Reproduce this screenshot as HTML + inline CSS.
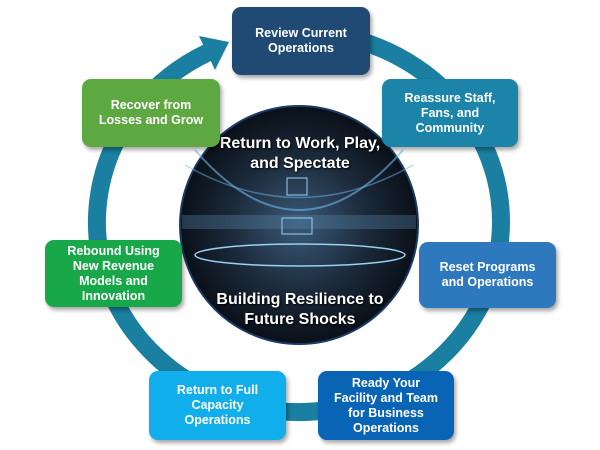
<!DOCTYPE html>
<html><head><style>
body{margin:0;width:600px;height:450px;background:#fff;overflow:hidden;position:relative;font-family:"Liberation Sans",sans-serif}
.b{position:absolute;color:#fff;font-weight:bold;font-size:12.5px;line-height:15px;text-align:center;border-radius:9px;display:flex;align-items:center;justify-content:center;box-shadow:2px 3px 4px rgba(0,0,0,.35)}
.t{position:absolute;color:#fff;font-weight:bold;font-size:16px;line-height:20px;text-align:center;text-shadow:1px 1px 2px #000}
</style></head><body>
<svg width="600" height="450" style="position:absolute;left:0;top:0">
<defs>
<radialGradient id="g" cx="50%" cy="50%" r="50%">
<stop offset="0" stop-color="#3a5a78"/><stop offset=".6" stop-color="#1a2838"/><stop offset="1" stop-color="#0a1018"/>
</radialGradient>
</defs>
<path d="M334.1,34.9 A202,190 0 1,1 207.3,52.7" fill="none" stroke="#1a7fa0" stroke-width="18"/>
<polygon points="199,36 229,42 215,70" fill="#1a7fa0"/>
<circle cx="299" cy="225" r="119" fill="url(#g)" stroke="#1d3a66" stroke-width="2"/>
<path d="M195 150 Q299 270 403 150" fill="none" stroke="#6fb8e8" stroke-width="2" opacity=".6"/>
<path d="M185 165 Q299 230 413 165" fill="none" stroke="#6fb8e8" stroke-width="1.5" opacity=".5"/>
<rect x="182" y="215" width="234" height="14" fill="#5a86a8" opacity=".35"/>
<rect x="282" y="218" width="30" height="16" fill="none" stroke="#9ad0f0" stroke-width="1"/>
<rect x="287" y="178" width="20" height="17" fill="none" stroke="#9ad0f0" stroke-width="1"/>
<ellipse cx="300" cy="255" rx="105" ry="11" fill="none" stroke="#9ad0f0" stroke-width="1.5"/>
</svg>
<div class="t" style="left:185px;top:134px;width:230px">Return to Work, Play,<br>and Spectate</div>
<div class="t" style="left:180px;top:290px;width:240px">Building Resilience to<br>Future Shocks</div>
<div class="b" style="left:232px;top:7px;width:138px;height:68px;background:#204a74">Review Current<br>Operations</div>
<div class="b" style="left:382px;top:79px;width:136px;height:68px;background:#1b84a8">Reassure Staff,<br>Fans, and<br>Community</div>
<div class="b" style="left:419px;top:242px;width:137px;height:66px;background:#2e78bd">Reset Programs<br>and Operations</div>
<div class="b" style="left:318px;top:371px;width:136px;height:69px;background:#0a64b6">Ready Your<br>Facility and Team<br>for Business<br>Operations</div>
<div class="b" style="left:149px;top:371px;width:137px;height:69px;background:#10aeea">Return to Full<br>Capacity<br>Operations</div>
<div class="b" style="left:45px;top:240px;width:137px;height:67px;background:#18a84a">Rebound Using<br>New Revenue<br>Models and<br>Innovation</div>
<div class="b" style="left:82px;top:79px;width:138px;height:68px;background:#5ea842">Recover from<br>Losses and Grow</div>
</body></html>
